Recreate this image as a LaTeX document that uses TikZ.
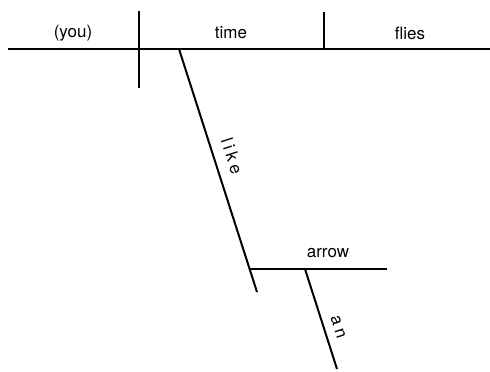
\documentclass[tikz,border=0pt]{standalone}
\usepackage{fontspec}
\setmainfont{TeX Gyre Heros}
\usetikzlibrary{calc}

\begin{document}
\begin{tikzpicture}[
    x=1pt, y=-1pt,
    % Define styles for the diagram lines and the words on them
    rule/.style={draw=black, line width=2pt},
    word/.style={font=\fontsize{17}{20}\selectfont, inner sep=1pt},
    slantword/.style={word, rotate=-72, font=\fontsize{17}{20}\selectfont\addfontfeature{LetterSpace=22}}
]

    \useasboundingbox (0,0) rectangle (490,372);

    % --- Main line: subject | verb | object ---
    \coordinate (base_w) at (8,49);
    \coordinate (base_e) at (490,49);
    \coordinate (subj_t) at (139,11);
    \coordinate (subj_b) at (139,88);
    \coordinate (obj_t) at (324,12);
    \coordinate (obj_b) at (324,49);

    \draw[rule] (base_w) -- (base_e);
    \draw[rule] (subj_t) -- (subj_b);
    \draw[rule] (obj_t) -- (obj_b);

    \node[word] (you) at (73,33) {(you)};
    \node[word] (time) at (231,33) {time};
    \node[word] (flies) at (410,33) {flies};

    % --- Modifier "like" and its object ---
    \coordinate (like_t) at (179,49);
    \coordinate (like_b) at (257,292);
    \coordinate (arrow_w) at (250,269);
    \coordinate (arrow_e) at (387,269);

    \draw[rule] (like_t) -- (like_b);
    \draw[rule] (arrow_w) -- (arrow_e);

    \node[slantword] (like) at (232,156) {like};
    \node[word] (arrow) at (328,253) {arrow};

    % --- Article under "arrow" ---
    \coordinate (an_t) at (305,269);
    \coordinate (an_b) at (337,369);

    \draw[rule] (an_t) -- (an_b);

    \node[slantword] (an) at (338,327) {an};

\end{tikzpicture}
\end{document}
